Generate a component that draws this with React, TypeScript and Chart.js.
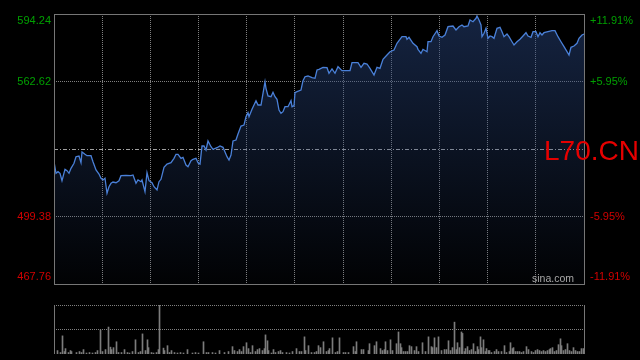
import React, { useEffect, useRef } from 'react';
import { Chart, registerables } from 'chart.js';

Chart.register(...registerables);

// ---- Data ----
const SYMBOL = 'L70.CN';
const WATERMARK = 'sina.com';
const PREV_CLOSE = 531.0;
const PRICE_TICKS = [467.76, 499.38, 531.0, 562.62, 594.24];
const PRICE_LABELS = ['467.76', '499.38', '', '562.62', '594.24'];
const PCT_LABELS = ['-11.91%', '-5.95%', '', '+5.95%', '+11.91%'];
const SESSION_LEN = 530; // time index units across the session
const X_DIVISIONS = 11;
const VOL_MAX = 100;
const VOL_TICKS = [50, 100];

// time index of each trade sample
const minutes = [
  0, 2, 4, 6, 8, 11, 13, 15, 17, 20,
  22, 25, 27, 28, 31, 33, 37, 39, 42, 45,
  47, 49, 51, 53, 55, 57, 59, 62, 65, 67,
  72, 77, 79, 82, 84, 87, 88, 91, 93, 95,
  98, 100, 103, 105, 107, 110, 113, 117, 120, 122,
  124, 127, 129, 132, 134, 137, 139, 142, 144, 146,
  148, 150, 152, 154, 157, 159, 163, 166, 169, 173,
  175, 177, 179, 182, 184, 187, 190, 192, 194, 195,
  198, 200, 202, 204, 207, 209, 211, 212, 214, 217,
  219, 221, 223, 225, 227, 229, 231, 234, 237, 238,
  240, 241, 243, 247, 249, 251, 254, 258, 261, 263,
  265, 269, 273, 275, 278, 281, 284, 288, 296, 298,
  304, 307, 310, 313, 316, 320, 323, 326, 329, 333,
  336, 340, 343, 345, 348, 352, 353, 355, 359, 363,
  364, 367, 369, 373, 374, 377, 379, 383, 385, 388,
  391, 394, 399, 402, 405, 408, 410, 414, 416, 419,
  422, 423, 425, 427, 428, 430, 432, 434, 436, 438,
  440, 443, 446, 448, 450, 453, 455, 458, 460, 463,
  466, 469, 472, 474, 477, 479, 482, 484, 486, 488,
  490, 494, 498, 501, 504, 507, 510, 513, 515, 517,
  520, 523, 525, 528, 530,
];

const prices = [
  525.05, 519.62, 520.37, 519.62, 516.15, 521.49, 520.84, 519.62, 521.96, 524.30,
  527.39, 527.72, 524.58, 529.60, 528.52, 527.86, 527.86, 525.05, 521.16, 519.29,
  517.28, 516.48, 517.28, 510.25, 513.34, 514.93, 515.54, 515.21, 516.15, 518.49,
  518.68, 518.49, 518.82, 514.93, 516.48, 515.68, 516.48, 511.00, 519.90, 516.15,
  515.21, 513.34, 511.79, 515.68, 516.81, 522.43, 523.97, 524.58, 526.64, 528.52,
  528.52, 526.64, 527.11, 523.51, 522.71, 525.52, 526.18, 526.64, 524.58, 523.97,
  532.41, 532.41, 530.53, 534.75, 532.08, 530.86, 531.61, 532.41, 531.80, 527.39,
  525.85, 528.19, 534.75, 535.22, 538.03, 541.77, 542.24, 546.13, 548.00, 546.13,
  549.60, 551.61, 553.63, 551.61, 551.61, 557.09, 562.53, 559.44, 555.83, 555.50,
  557.56, 555.50, 554.28, 549.27, 547.72, 548.47, 550.82, 550.82, 553.63, 550.82,
  551.28, 557.37, 557.84, 558.64, 563.00, 564.87, 565.20, 564.40, 564.12, 568.01,
  568.34, 569.27, 569.09, 566.46, 568.48, 566.46, 569.55, 567.68, 567.68, 571.43,
  571.43, 569.27, 571.15, 570.82, 568.80, 565.67, 569.27, 568.80, 573.02, 575.03,
  576.58, 577.38, 580.52, 581.73, 583.61, 583.61, 582.39, 583.33, 580.52, 578.92,
  577.70, 575.83, 577.70, 576.58, 581.26, 581.26, 583.61, 586.42, 583.93, 583.33,
  584.40, 588.29, 588.62, 586.75, 588.29, 589.09, 588.29, 588.62, 591.43, 590.63,
  592.23, 593.30, 591.43, 589.09, 583.61, 585.20, 587.54, 582.86, 583.93, 583.61,
  582.86, 587.54, 588.01, 585.95, 583.61, 584.87, 583.61, 581.26, 579.72, 581.26,
  582.39, 583.93, 585.48, 583.93, 583.33, 585.95, 585.95, 583.61, 585.48, 584.40,
  585.48, 585.95, 586.42, 586.42, 583.61, 581.26, 578.92, 576.58, 575.03, 578.64,
  579.25, 580.52, 582.86, 584.40, 584.87,
];

// volume bars: time index and relative volume
const volMinutes = [
  3, 6, 8, 10, 11, 14, 16, 17, 22, 25,
  27, 29, 32, 35, 38, 41, 43, 46, 48, 51,
  54, 56, 57, 59, 62, 64, 67, 70, 73, 75,
  78, 81, 84, 86, 88, 91, 93, 94, 97, 99,
  102, 104, 105, 109, 110, 113, 115, 117, 120, 123,
  126, 129, 133, 138, 141, 144, 149, 152, 154, 158,
  161, 165, 170, 174, 178, 180, 183, 185, 187, 189,
  192, 194, 196, 198, 201, 203, 205, 208, 210, 211,
  213, 214, 217, 219, 221, 224, 226, 228, 232, 235,
  238, 242, 245, 247, 250, 251, 254, 257, 260, 262,
  264, 266, 269, 272, 274, 275, 278, 281, 283, 285,
  289, 291, 294, 299, 301, 302, 307, 309, 314, 315,
  320, 322, 326, 328, 330, 331, 333, 336, 338, 342,
  344, 346, 347, 349, 351, 353, 355, 357, 360, 362,
  364, 368, 371, 374, 377, 378, 380, 382, 384, 387,
  390, 392, 394, 396, 398, 400, 402, 403, 405, 407,
  408, 410, 411, 413, 415, 417, 419, 421, 423, 424,
  426, 427, 429, 431, 432, 434, 435, 437, 440, 442,
  444, 447, 450, 452, 455, 456, 458, 459, 461, 463,
  465, 467, 469, 472, 474, 477, 479, 481, 483, 485,
  487, 489, 491, 493, 495, 496, 498, 500, 502, 504,
  506, 507, 509, 511, 513, 515, 517, 519, 521, 523,
  525, 527, 529,
];

const volumes = [
  7, 3, 37, 5, 11, 3, 7, 5, 3, 5,
  3, 9, 2, 3, 2, 3, 7, 49, 5, 9,
  55, 14, 9, 13, 25, 3, 3, 9, 3, 2,
  5, 29, 3, 5, 41, 7, 29, 13, 3, 2,
  3, 9, 160, 12, 7, 17, 3, 7, 3, 2,
  3, 2, 9, 2, 3, 2, 25, 3, 3, 3,
  2, 7, 3, 5, 15, 7, 5, 9, 5, 15,
  23, 11, 3, 17, 5, 9, 11, 7, 11, 39,
  27, 7, 2, 9, 3, 5, 7, 3, 3, 2,
  5, 11, 5, 5, 35, 7, 17, 3, 3, 5,
  17, 13, 25, 5, 7, 11, 33, 3, 5, 33,
  3, 3, 3, 15, 5, 25, 9, 9, 7, 21,
  17, 25, 11, 7, 9, 25, 7, 29, 7, 21,
  45, 21, 13, 5, 5, 5, 17, 15, 7, 15,
  5, 23, 5, 35, 15, 13, 33, 13, 35, 7,
  9, 9, 27, 7, 13, 65, 9, 23, 13, 45,
  42, 5, 11, 15, 7, 9, 21, 5, 15, 9,
  35, 13, 29, 5, 11, 7, 7, 3, 5, 9,
  5, 5, 17, 3, 5, 23, 11, 13, 5, 5,
  5, 3, 5, 15, 9, 5, 3, 7, 9, 7,
  5, 7, 5, 7, 9, 11, 13, 5, 7, 19,
  31, 17, 7, 9, 21, 7, 5, 13, 7, 5,
  5, 11, 11,
];

// ---- Styles ----
const FONT = '"Liberation Sans", Arial, Helvetica, sans-serif';
const GREEN = '#00a000';
const RED = '#d20000';
const GRID = '#808080';
const FRAME = '#767676';
const LINE = '#4a80d8';

const labelColor = (ctx: any) => {
  const i = ctx.index;
  return PRICE_TICKS[i] > PREV_CLOSE ? GREEN : RED;
};

const withEdgeShift = (text: string, i: number) => {
  if (i === PRICE_TICKS.length - 1) return ['', text];
  if (i === 0) return [text, ''];
  return text;
};

const noPad = (s: any) => {
  s.paddingTop = 0;
  s.paddingBottom = 0;
  s.paddingLeft = 0;
  s.paddingRight = 0;
};

function midPixel(chart: any) {
  return chart.scales.y.getPixelForValue(PREV_CLOSE);
}

const mainDecor = {
  id: 'mainDecor',
  beforeDatasetsDraw(chart: any) {
    const { ctx, chartArea: a } = chart;
    const y = Math.round(midPixel(chart)) + 0.5;
    ctx.save();
    ctx.strokeStyle = '#a0a0a0';
    ctx.lineWidth = 1;
    ctx.setLineDash([4, 2, 1, 2]);
    ctx.beginPath();
    ctx.moveTo(a.left, y);
    ctx.lineTo(a.right, y);
    ctx.stroke();
    ctx.restore();
  },
  afterDraw(chart: any) {
    const { ctx, chartArea: a } = chart;
    ctx.save();
    ctx.strokeStyle = FRAME;
    ctx.lineWidth = 1;
    ctx.setLineDash([]);
    const l = Math.round(a.left) + 0.5;
    const t = Math.round(a.top) + 0.5;
    const r = Math.round(a.right) + 0.5;
    const b = Math.round(a.bottom) + 0.5;
    ctx.strokeRect(l, t, r - l, b - t);

    ctx.fillStyle = '#a8a8a8';
    ctx.font = `10.5px ${FONT}`;
    ctx.textAlign = 'left';
    ctx.textBaseline = 'alphabetic';
    ctx.fillText(WATERMARK, a.right - 52, a.bottom - 2);

    ctx.fillStyle = '#e60000';
    ctx.font = `28px ${FONT}`;
    ctx.fillText(SYMBOL, a.right - 40, midPixel(chart) + 11);
    ctx.restore();
  },
};

const volDecor = {
  id: 'volDecor',
  afterDraw(chart: any) {
    const { ctx, chartArea: a } = chart;
    ctx.save();
    ctx.strokeStyle = FRAME;
    ctx.lineWidth = 1;
    const l = Math.round(a.left) + 0.5;
    const r = Math.round(a.right) + 0.5;
    ctx.beginPath();
    ctx.moveTo(l, Math.round(a.top));
    ctx.lineTo(l, Math.round(a.bottom));
    ctx.moveTo(r, Math.round(a.top));
    ctx.lineTo(r, Math.round(a.bottom));
    ctx.stroke();
    ctx.restore();
  },
};

export default function App() {
  const mainRef = useRef<HTMLCanvasElement>(null);
  const volRef = useRef<HTMLCanvasElement>(null);

  useEffect(() => {
    document.body.style.margin = '0';
    document.body.style.background = '#000';

    const priceMin = PRICE_TICKS[0];
    const priceMax = PRICE_TICKS[PRICE_TICKS.length - 1];

    const main = new Chart(mainRef.current as HTMLCanvasElement, {
      type: 'line',
      data: {
        datasets: [
          {
            data: minutes.map((t, i) => ({ x: t, y: prices[i] })),
            borderColor: LINE,
            borderWidth: 1.3,
            pointRadius: 0,
            tension: 0,
            fill: 'start',
            backgroundColor: (ctx: any) => {
              const chart = ctx.chart;
              const area = chart.chartArea;
              if (!area) return 'rgba(0,0,0,0)';
              const g = chart.ctx.createLinearGradient(0, area.top, 0, area.bottom);
              g.addColorStop(0, 'rgba(40,68,124,0.52)');
              g.addColorStop(1, 'rgba(40,68,124,0.03)');
              return g;
            },
          },
        ],
      },
      options: {
        responsive: false,
        animation: false,
        events: [],
        layout: { padding: { top: 14, bottom: 6, left: 0, right: 0 } },
        plugins: { legend: { display: false }, tooltip: { enabled: false } },
        scales: {
          x: {
            type: 'linear',
            min: 0,
            max: SESSION_LEN,
            afterBuildTicks: (s: any) => {
              s.ticks = Array.from({ length: X_DIVISIONS + 1 }, (_, i) => ({
                value: (i * SESSION_LEN) / X_DIVISIONS,
              }));
            },
            ticks: { display: false },
            grid: { color: GRID, drawTicks: false, lineWidth: 1 },
            border: { display: false, dash: [1, 1] },
            afterFit: (s: any) => {
              s.height = 0;
              noPad(s);
            },
          },
          y: {
            position: 'left',
            min: priceMin,
            max: priceMax,
            afterBuildTicks: (s: any) => {
              s.ticks = PRICE_TICKS.map((v) => ({ value: v }));
            },
            ticks: {
              padding: 3,
              color: labelColor,
              font: { family: FONT, size: 11 },
              callback: (_v: any, i: number) => withEdgeShift(PRICE_LABELS[i], i),
            },
            grid: {
              color: (c: any) => (PRICE_TICKS[c.index] === PREV_CLOSE ? 'rgba(0,0,0,0)' : GRID),
              drawTicks: false,
              lineWidth: 1,
            },
            border: { display: false, dash: [1, 1] },
            afterFit: (s: any) => {
              s.width = 54;
              noPad(s);
            },
          },
          y2: {
            position: 'right',
            min: priceMin,
            max: priceMax,
            afterBuildTicks: (s: any) => {
              s.ticks = PRICE_TICKS.map((v) => ({ value: v }));
            },
            ticks: {
              padding: 6,
              color: labelColor,
              font: { family: FONT, size: 11 },
              callback: (_v: any, i: number) => withEdgeShift(PCT_LABELS[i], i),
            },
            grid: { display: false, drawTicks: false },
            border: { display: false },
            afterFit: (s: any) => {
              s.width = 56;
              noPad(s);
            },
          },
        },
      } as any,
      plugins: [mainDecor],
    });

    const vol = new Chart(volRef.current as HTMLCanvasElement, {
      type: 'bar',
      data: {
        datasets: [
          {
            data: volMinutes.map((t, i) => ({ x: t, y: volumes[i] })),
            backgroundColor: '#7c7c7c',
            barThickness: 1,
            borderWidth: 0,
          },
        ],
      },
      options: {
        responsive: false,
        animation: false,
        events: [],
        layout: { padding: { top: 15, bottom: 6, left: 54, right: 56 } },
        plugins: { legend: { display: false }, tooltip: { enabled: false } },
        scales: {
          x: {
            type: 'linear',
            min: -0.5,
            max: SESSION_LEN - 0.5,
            offset: false,
            display: false,
          },
          y: {
            min: 0,
            max: VOL_MAX,
            afterBuildTicks: (s: any) => {
              s.ticks = VOL_TICKS.map((v) => ({ value: v }));
            },
            ticks: { display: false },
            grid: { color: GRID, drawTicks: false, lineWidth: 1 },
            border: { display: false, dash: [1, 1] },
            afterFit: (s: any) => {
              s.width = 0;
              noPad(s);
            },
          },
        },
      } as any,
      plugins: [volDecor],
    });

    return () => {
      main.destroy();
      vol.destroy();
    };
  }, []);

  return (
    <div
      style={{
        position: 'fixed',
        left: 0,
        top: 0,
        width: 640,
        height: 360,
        background: '#000',
        overflow: 'hidden',
      }}
    >
      <canvas
        ref={mainRef}
        width={640}
        height={290}
        style={{ position: 'absolute', left: 0, top: 0 }}
      />
      <canvas
        ref={volRef}
        width={640}
        height={70}
        style={{ position: 'absolute', left: 0, top: 290 }}
      />
    </div>
  );
}
